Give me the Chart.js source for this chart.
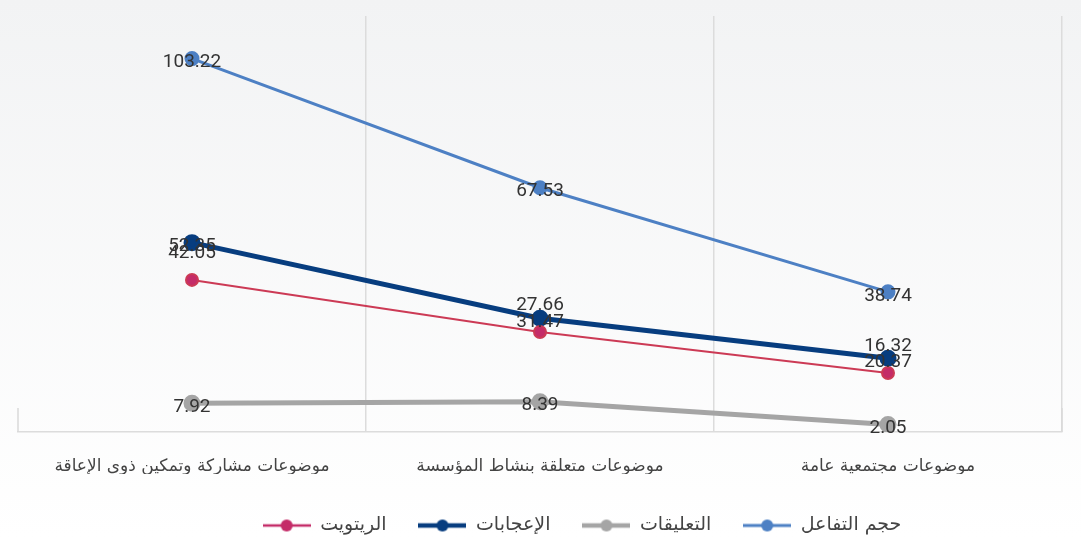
<!DOCTYPE html>
<html lang="ar">
<head>
<meta charset="utf-8">
<title>حجم التفاعل حسب نوع الموضوعات</title>
<script src="https://cdn.jsdelivr.net/npm/chart.js@4/dist/chart.umd.min.js"></script>
<style>
  html, body { margin: 0; padding: 0; background: #ffffff; }
  #wrap { width: 1081px; height: 537px; }
</style>
</head>
<body>
<div id="wrap"><canvas id="engagementChart" width="1081" height="537"></canvas></div>
<script>
// topics and series values
const topics = [
  "موضوعات مشاركة وتمكين ذوي الإعاقة",
  "موضوعات متعلقة بنشاط المؤسسة",
  "موضوعات مجتمعية عامة",
];
const interaction = [103.22, 67.53, 38.74];
const likes = [52.35, 31.47, 20.37];
const retweets = [42.05, 27.66, 16.32];
const comments = [7.92, 8.39, 2.05];

const arabicFont = '"DejaVu Sans", sans-serif';
const numberFont = 'Roboto, "DejaVu Sans", sans-serif';

// little line + dot image used as legend marker
function legendMarker(color, lineW) {
  const c = document.createElement("canvas");
  c.width = 48;
  c.height = 14;
  const g = c.getContext("2d");
  g.strokeStyle = color;
  g.lineWidth = lineW;
  g.beginPath();
  g.moveTo(0, 7);
  g.lineTo(48, 7);
  g.stroke();
  g.fillStyle = color;
  g.beginPath();
  g.arc(24, 7, 6, 0, Math.PI * 2);
  g.fill();
  return c;
}

// soft grey-to-white backdrop
const backdrop = {
  id: "backdrop",
  beforeDraw(chart) {
    const ctx = chart.ctx;
    const grad = ctx.createLinearGradient(0, 0, 0, chart.height);
    grad.addColorStop(0, "#f2f3f4");
    grad.addColorStop(1, "#ffffff");
    ctx.save();
    ctx.fillStyle = grad;
    ctx.fillRect(0, 0, chart.width, chart.height);
    ctx.restore();
  },
};

// short end ticks at both sides of the bottom axis, legend nudged right
const edgeTicks = {
  id: "edgeTicks",
  afterLayout(chart) {
    chart.legend.left += 42;
    chart.legend.right += 42;
  },
  afterDraw(chart) {
    const { left, right, bottom } = chart.chartArea;
    const ctx = chart.ctx;
    ctx.save();
    ctx.strokeStyle = "#d9d9d9";
    ctx.lineWidth = 1.5;
    ctx.beginPath();
    ctx.moveTo(left, bottom - 24);
    ctx.lineTo(left, bottom);
    ctx.moveTo(right, bottom - 24);
    ctx.lineTo(right, bottom);
    ctx.stroke();
    ctx.restore();
  },
};

// value labels next to each point
const valueLabels = {
  id: "valueLabels",
  afterDatasetsDraw(chart) {
    const ctx = chart.ctx;
    ctx.save();
    ctx.font = "19px " + numberFont;
    ctx.fillStyle = "#333333";
    ctx.textAlign = "center";
    ctx.textBaseline = "middle";
    chart.data.datasets.forEach((ds, i) => {
      const meta = chart.getDatasetMeta(i);
      meta.data.forEach((pt, j) => {
        const dy = ds.labelShift || 4;
        ctx.fillText(ds.data[j].toFixed(2), pt.x, pt.y + dy);
      });
    });
    ctx.restore();
  },
};

const ctx = document.getElementById("engagementChart").getContext("2d");

new Chart(ctx, {
  type: "line",
  data: {
    labels: topics,
    datasets: [
      {
        label: "الريتويت",
        data: retweets,
        borderColor: "#cc3a55",
        backgroundColor: "#c42c68",
        borderWidth: 2,
        markerWidth: 2.5,
        labelShift: -27,
      },
      {
        label: "الإعجابات",
        data: likes,
        borderColor: "#073d7f",
        backgroundColor: "#073d7f",
        borderWidth: 5,
        markerWidth: 4.5,
      },
      {
        label: "التعليقات",
        data: comments,
        borderColor: "#a5a5a5",
        backgroundColor: "#a5a5a5",
        borderWidth: 5,
        markerWidth: 4.5,
      },
      {
        label: "حجم التفاعل",
        data: interaction,
        borderColor: "#4d80c4",
        backgroundColor: "#4d80c4",
        borderWidth: 3,
        markerWidth: 3,
      },
    ],
  },
  options: {
    responsive: false,
    animation: false,
    layout: {
      padding: { left: 18, right: 19, top: 16, bottom: 0 },
    },
    elements: {
      line: { tension: 0 },
      point: { pointStyle: "circle", radius: 6, borderWidth: 0, hoverRadius: 6 },
    },
    scales: {
      x: {
        offset: true,
        afterFit(scale) {
          scale.height = 42;
        },
        grid: {
          offset: true,
          drawTicks: false,
          lineWidth: 1.5,
          color: (c) => (c.index === 0 || c.index === 3 ? "rgba(0,0,0,0)" : "#dcdcdc"),
        },
        border: { display: true, color: "#dcdcdc", width: 1.5 },
        ticks: {
          padding: 24,
          maxRotation: 0,
          color: "#444444",
          font: { family: arabicFont, size: 17 },
        },
      },
      y: {
        display: false,
        min: 0,
        max: 115,
      },
    },
    plugins: {
      tooltip: { enabled: false },
      legend: {
        position: "bottom",
        maxHeight: 63,
        title: { display: true, text: "", padding: 0, font: { size: 10, lineHeight: 1 } },
        labels: {
          usePointStyle: true,
          pointStyleWidth: 48,
          padding: 32,
          color: "#444444",
          font: { family: arabicFont, size: 19 },
          generateLabels(chart) {
            return chart.data.datasets.map((ds, i) => ({
              text: ds.label,
              pointStyle: legendMarker(ds.backgroundColor, ds.markerWidth),
              fillStyle: ds.backgroundColor,
              strokeStyle: ds.backgroundColor,
              lineWidth: 0,
              fontColor: "#444444",
              hidden: false,
              datasetIndex: i,
            }));
          },
        },
      },
    },
  },
  plugins: [backdrop, edgeTicks, valueLabels],
});
</script>
</body>
</html>
